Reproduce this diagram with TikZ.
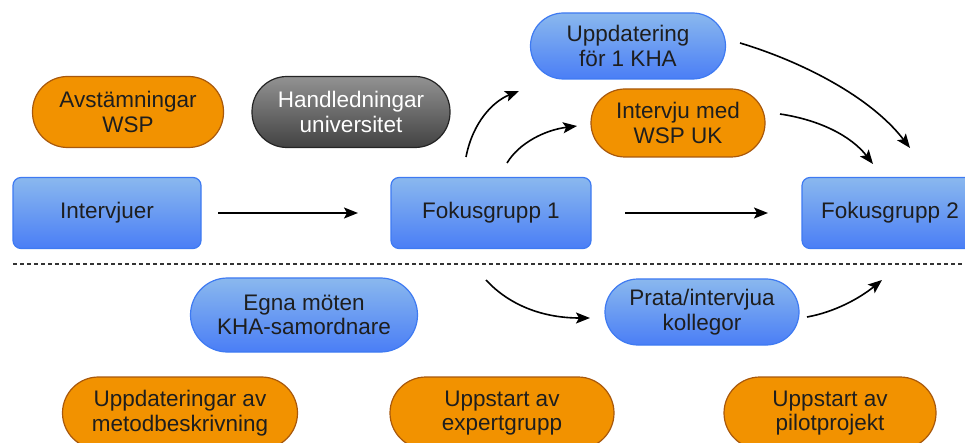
\documentclass[tikz,border=0pt]{standalone}
\usepackage{fontspec}
\setmainfont{Liberation Sans}
\usetikzlibrary{arrows.meta}
\definecolor{orfill}{RGB}{242,146,0}
\definecolor{ordraw}{RGB}{168,88,12}
\definecolor{bltop}{RGB}{138,184,238}
\definecolor{blbot}{RGB}{74,126,246}
\definecolor{bldraw}{RGB}{62,122,242}
\definecolor{grtop}{RGB}{146,146,146}
\definecolor{grbot}{RGB}{66,66,66}
\definecolor{grdraw}{RGB}{36,36,36}
\definecolor{txt}{RGB}{30,30,30}
\begin{document}
\begin{tikzpicture}[x=1pt,y=-1pt,
  base/.style={line width=1.2pt, inner sep=0pt, align=center, text=txt,
    font=\fontsize{22.5}{24.5}\selectfont},
  bluebox/.style={base, draw=bldraw, top color=bltop, bottom color=blbot, rounded corners=8pt},
  bluepill/.style={base, draw=bldraw, top color=bltop, bottom color=blbot, rounded corners=33pt},
  orangepill/.style={base, draw=ordraw, fill=orfill, rounded corners=35pt},
  graypill/.style={base, draw=grdraw, top color=grtop, bottom color=grbot, text=white, rounded corners=35pt},
  flow/.style={line width=1.6pt, -{Stealth[length=14pt,width=11pt,inset=3pt]}},
  divider/.style={line width=1.8pt, dash pattern=on 4pt off 3pt, draw=black!80}]
\useasboundingbox (0,0) rectangle (965,443);
\clip (0,0) rectangle (965,443);

% upper track
\node[orangepill, minimum width=191pt, minimum height=71pt] (avst) at (128,112) {Avstämningar\\WSP};
\node[graypill, minimum width=198pt, minimum height=71pt] (handl) at (351,112) {Handledningar\\universitet};
\node[bluebox, minimum width=188pt, minimum height=71pt] (interv) at (107,213) {Intervjuer};
\node[bluebox, minimum width=200pt, minimum height=71pt] (fg1) at (491,213) {Fokusgrupp 1};
\node[bluebox, minimum width=176pt, minimum height=71pt] (fg2) at (890,213) {Fokusgrupp 2};
\node[bluepill, minimum width=195pt, minimum height=66pt] (upd) at (628,46) {Uppdatering\\för 1 KHA};
\node[orangepill, rounded corners=34pt, minimum width=174pt, minimum height=68pt] (intwsp) at (678,123) {Intervju med\\WSP UK};

% lower track
\node[bluepill, rounded corners=37pt, minimum width=227pt, minimum height=74pt] (egna) at (304,315) {Egna möten\\KHA-samordnare};
\node[bluepill, minimum width=194pt, minimum height=66pt] (prata) at (702,312) {Prata/intervjua\\kollegor};
\node[orangepill, rounded corners=36pt, minimum width=235pt, minimum height=72pt] (metod) at (180,413) {Uppdateringar av\\metodbeskrivning};
\node[orangepill, rounded corners=36pt, minimum width=224pt, minimum height=72pt] (expert) at (502,413) {Uppstart av\\expertgrupp};
\node[orangepill, rounded corners=36pt, minimum width=212pt, minimum height=72pt] (pilot) at (830,413) {Uppstart av\\pilotprojekt};

% free arrow ends
\coordinate (dl) at (13,264);
\coordinate (dr) at (965,264);
\coordinate (a1s) at (218,213);  \coordinate (a1e) at (358,213);
\coordinate (a2s) at (625,213);  \coordinate (a2e) at (768,213);
\coordinate (a3s) at (466,157);  \coordinate (a3e) at (519,91);
\coordinate (a4s) at (507,163);  \coordinate (a4e) at (577,126);
\coordinate (a5s) at (740,43);   \coordinate (a5e) at (910,148);
\coordinate (a6s) at (780,114);  \coordinate (a6e) at (873,164);
\coordinate (a7s) at (486,280);  \coordinate (a7e) at (590,318);
\coordinate (a8s) at (807,317);  \coordinate (a8e) at (882,280);

\draw[divider] (dl) -- (dr);

\draw[flow] (a1s) -- (a1e);
\draw[flow] (a2s) -- (a2e);
\draw[flow] (a3s) .. controls +(7,-36) and +(-25,10) .. (a3e);
\draw[flow] (a4s) .. controls +(12,-20) and +(-32,4) .. (a4e);
\draw[flow] (a5s) .. controls +(60,18) and +(-40,-52) .. (a5e);
\draw[flow] (a6s) .. controls +(40,6) and +(-22,-28) .. (a6e);
\draw[flow] (a7s) .. controls +(24,26) and +(-46,0) .. (a7e);
\draw[flow] (a8s) .. controls +(28,-5) and +(-22,18) .. (a8e);
\end{tikzpicture}
\end{document}
